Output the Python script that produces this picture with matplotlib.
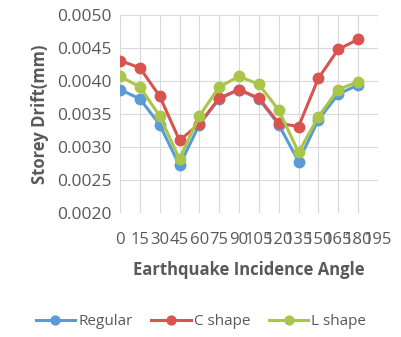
import matplotlib
matplotlib.use("Agg")
from matplotlib import pyplot as plt

angles = [0, 15, 30, 45, 60, 75, 90, 105, 120, 135, 150, 165, 180]
regular = [0.00387, 0.00373, 0.00334, 0.00272, 0.00334, 0.00373, 0.00387,
           0.00373, 0.00334, 0.00278, 0.00341, 0.00380, 0.00394]
c_shape = [0.00431, 0.00420, 0.00377, 0.00310, 0.00335, 0.00374, 0.00387,
           0.00374, 0.00336, 0.00331, 0.00404, 0.00448, 0.00463]
l_shape = [0.00407, 0.00391, 0.00347, 0.00282, 0.00347, 0.00391, 0.00407,
           0.00395, 0.00356, 0.00292, 0.00346, 0.00387, 0.00399]
x_ticks = list(range(0, 196, 15))
y_ticks = [0.0020, 0.0025, 0.0030, 0.0035, 0.0040, 0.0045, 0.0050]

plt.rcParams['font.family'] = ['Open Sans', 'DejaVu Sans']
grey = '#595959'

fig = plt.figure(figsize=(4.02, 3.37), dpi=100)
ax = fig.add_axes([0.2985, 0.368, 0.6415, 0.5875])

ax.plot(angles, regular, color='#5B9BD5', lw=2.2, marker='o', ms=7.5, label='Regular')
ax.plot(angles, c_shape, color='#D9534F', lw=2.2, marker='o', ms=7.5, label='C shape')
ax.plot(angles, l_shape, color='#A9C64B', lw=2.2, marker='o', ms=7.5, label='L shape')

ax.set_xlim(0, 195)
ax.set_ylim(0.0020, 0.0050)
ax.set_xticks(x_ticks)
ax.set_yticks(y_ticks)
ax.set_yticklabels(['%.4f' % v for v in y_ticks])
ax.tick_params(length=0, labelsize=12.5, colors=grey)
ax.tick_params(axis='y', pad=6)
ax.tick_params(axis='x', pad=14, labelsize=12)
ax.grid(True, color='#D9D9D9', lw=0.8)
ax.set_axisbelow(True)
for s in ax.spines.values():
    s.set_visible(False)

ax.set_xlabel('Earthquake Incidence Angle', fontsize=12, fontweight='bold', color=grey, labelpad=9)
ax.set_ylabel('Storey Drift(mm)', fontsize=12, fontweight='bold', color=grey, labelpad=6)

fig.legend(loc='lower center', bbox_to_anchor=(0.5, -0.018), ncol=3, frameon=False,
           fontsize=11, labelcolor=grey, handlelength=2.6, handletextpad=0.2,
           columnspacing=1.2, markerscale=0.85)

fig.savefig('out.png', dpi=100)
